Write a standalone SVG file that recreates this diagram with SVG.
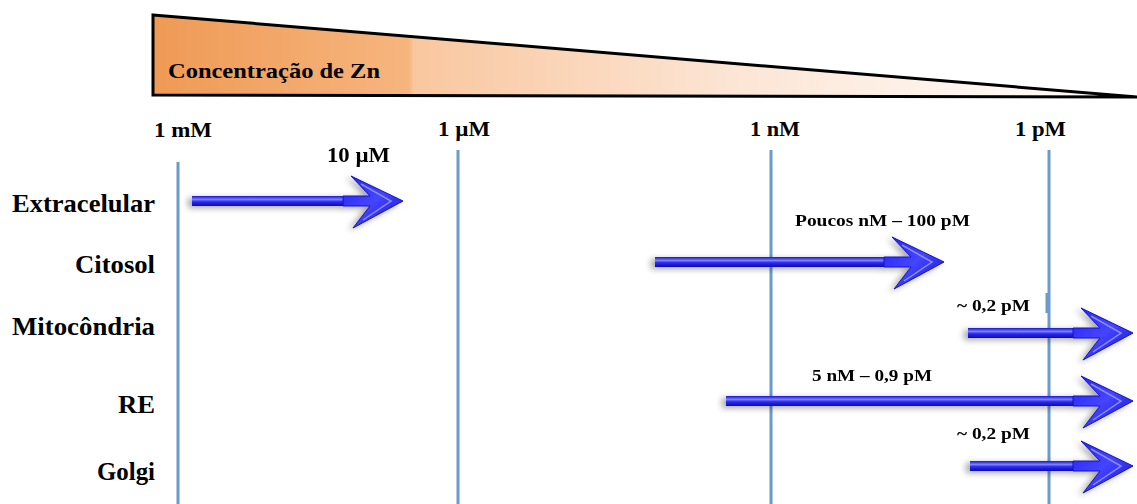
<svg xmlns="http://www.w3.org/2000/svg" width="1137" height="504" viewBox="0 0 1137 504">
<defs>
<linearGradient id="tri" x1="153" y1="0" x2="1137" y2="0" gradientUnits="userSpaceOnUse">
<stop offset="0" stop-color="#EF9A55"/>
<stop offset="0.26" stop-color="#F6B57E"/>
<stop offset="0.265" stop-color="#F9C79F"/>
<stop offset="0.6" stop-color="#FCE6D6"/>
<stop offset="1" stop-color="#FFFFFF"/>
</linearGradient>
<linearGradient id="shaft" x1="0" y1="0" x2="0" y2="1">
<stop offset="0" stop-color="#1515D8"/>
<stop offset="0.35" stop-color="#8080FF"/>
<stop offset="0.55" stop-color="#3030F0"/>
<stop offset="1" stop-color="#0A0AB8"/>
</linearGradient>
<linearGradient id="head" x1="0" y1="0" x2="1" y2="1">
<stop offset="0" stop-color="#2020F5"/>
<stop offset="0.5" stop-color="#4545FF"/>
<stop offset="1" stop-color="#1010D0"/>
</linearGradient>
<filter id="sh" x="-20%" y="-60%" width="140%" height="220%">
<feDropShadow dx="-4" dy="2" stdDeviation="3" flood-color="#000" flood-opacity="0.35"/>
</filter>
<g id="ah">
<polygon points="0,0 -52,-25 -33,-5 -60,-5 -60,5 -33,5 -50,27" fill="url(#head)" stroke="#1212C0" stroke-width="1"/>
<polyline points="-42,-17 -12,0 -40,19" fill="none" stroke="#8C8CFF" stroke-width="1.5"/>
</g>
</defs>
<style>
.t{font-family:"Liberation Serif",serif;font-weight:bold;fill:#000}
.row{font-size:25px}
.tick{font-size:20px}
.lab{font-size:16px}
.vl{stroke:#6B9BCB;stroke-width:3}
</style>
<rect width="1137" height="504" fill="#fff"/>
<g id="gradient-bar">
<polygon points="153,15 1137,97 153,95" fill="url(#tri)" stroke="#000" stroke-width="3" stroke-linejoin="miter"/>
<text class="t" x="168" y="78" font-size="21" textLength="212" lengthAdjust="spacingAndGlyphs">Concentração  de Zn</text>
</g>
<g id="ticks">
<line class="vl" x1="178" y1="162" x2="178" y2="504"/>
<line class="vl" x1="458" y1="150" x2="458" y2="504"/>
<line class="vl" x1="771" y1="150" x2="771" y2="504"/>
<line class="vl" x1="1049" y1="150" x2="1049" y2="504"/>
<line class="vl" x1="1047" y1="293" x2="1047" y2="313" stroke-width="2"/>
<text class="t tick" x="154" y="137" textLength="58" lengthAdjust="spacingAndGlyphs">1 mM</text>
<text class="t tick" x="438" y="136" textLength="52" lengthAdjust="spacingAndGlyphs">1 µM</text>
<text class="t tick" x="750" y="136" textLength="50" lengthAdjust="spacingAndGlyphs">1 nM</text>
<text class="t tick" x="1015" y="136" textLength="51" lengthAdjust="spacingAndGlyphs">1 pM</text>
</g>
<g id="row-labels">
<text class="t row" x="12" y="212" textLength="143" lengthAdjust="spacingAndGlyphs">Extracelular</text>
<text class="t row" x="75" y="273" textLength="80" lengthAdjust="spacingAndGlyphs">Citosol</text>
<text class="t row" x="12" y="335" textLength="143" lengthAdjust="spacingAndGlyphs">Mitocôndria</text>
<text class="t row" x="118" y="413" textLength="37" lengthAdjust="spacingAndGlyphs">RE</text>
<text class="t row" x="97" y="480" textLength="58" lengthAdjust="spacingAndGlyphs">Golgi</text>
</g>
<g id="connectors">
<g id="arrow-extracelular" filter="url(#sh)">
<rect x="192" y="196" width="155" height="10" fill="url(#shaft)"/>
<use href="#ah" transform="translate(403,201)"/>
</g>
<g id="arrow-citosol" filter="url(#sh)">
<rect x="655" y="257" width="235" height="10" fill="url(#shaft)"/>
<use href="#ah" transform="translate(944,262)"/>
</g>
<g id="arrow-mitocondria" filter="url(#sh)">
<rect x="968" y="328" width="108" height="10" fill="url(#shaft)"/>
<use href="#ah" transform="translate(1133,333)"/>
</g>
<g id="arrow-re" filter="url(#sh)">
<rect x="726" y="396" width="350" height="10" fill="url(#shaft)"/>
<use href="#ah" transform="translate(1133,401)"/>
</g>
<g id="arrow-golgi" filter="url(#sh)">
<rect x="970" y="461" width="106" height="10" fill="url(#shaft)"/>
<use href="#ah" transform="translate(1133,466)"/>
</g>
</g>
<g id="range-labels">
<text class="t tick" x="327" y="162" textLength="63" lengthAdjust="spacingAndGlyphs">10 µM</text>
<text class="t lab" x="795" y="226" textLength="175" lengthAdjust="spacingAndGlyphs">Poucos nM – 100 pM</text>
<text class="t lab" x="957" y="311" textLength="73" lengthAdjust="spacingAndGlyphs">~ 0,2 pM</text>
<text class="t lab" x="812" y="381" textLength="120" lengthAdjust="spacingAndGlyphs">5 nM – 0,9 pM</text>
<text class="t lab" x="957" y="439" textLength="73" lengthAdjust="spacingAndGlyphs">~ 0,2 pM</text>
</g>
</svg>
